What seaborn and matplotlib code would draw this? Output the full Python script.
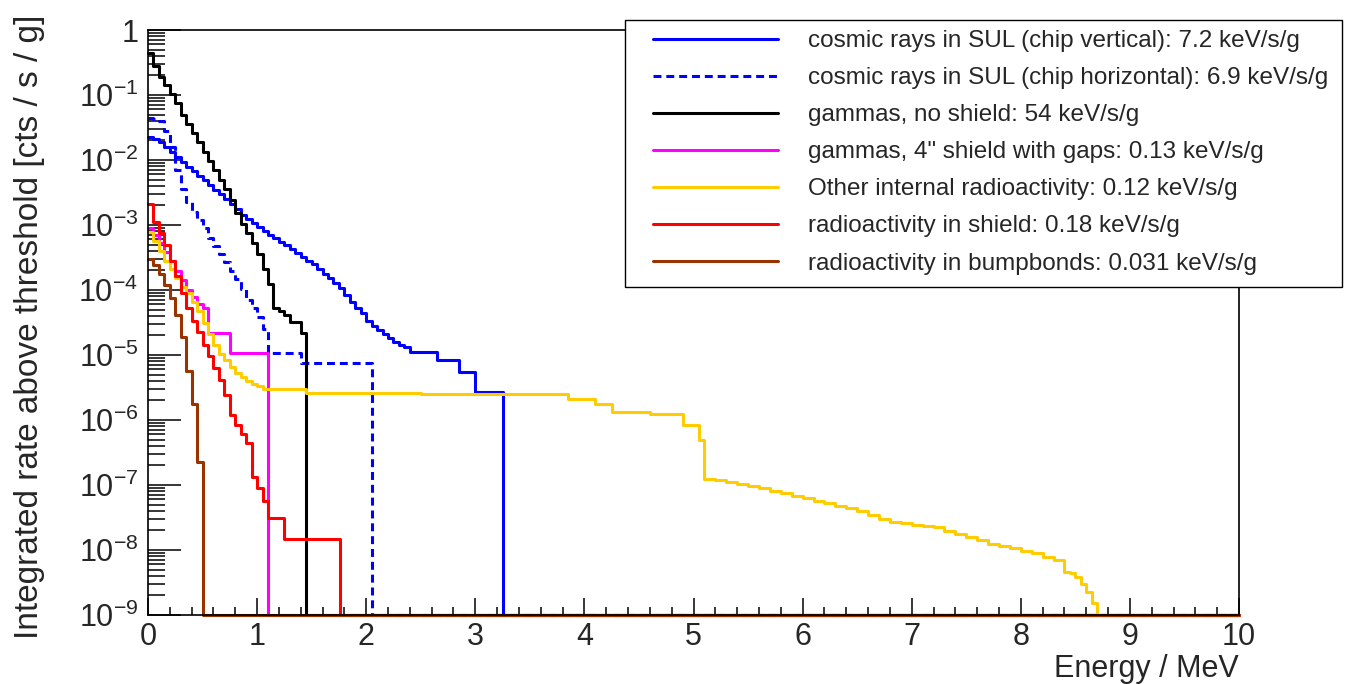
import numpy as np
import seaborn as sns
import matplotlib
matplotlib.use("Agg")
import matplotlib.pyplot as plt
from matplotlib.patches import Rectangle
from matplotlib.ticker import (FixedLocator, FixedFormatter, LogLocator,
                               MultipleLocator, NullFormatter)

# Histogram binning: 0.05 MeV bins from 0, some series continue with wider bins.
BIN = 0.05
E_MAX = 10.0
FLOOR = 1e-9

labels = [
    "cosmic rays in SUL (chip vertical): 7.2 keV/s/g",
    "cosmic rays in SUL (chip horizontal): 6.9 keV/s/g",
    "gammas, no shield: 54 keV/s/g",
    'gammas, 4" shield with gaps: 0.13 keV/s/g',
    "Other internal radioactivity: 0.12 keV/s/g",
    "radioactivity in shield: 0.18 keV/s/g",
    "radioactivity in bumpbonds: 0.031 keV/s/g",
]
colors = ["#0000ff", "#0000ff", "#000000", "#ff00ff", "#ffcc00", "#ff0000", "#993300"]

# log10(integrated rate), per 0.05 MeV bin starting at 0
blue_fine = [-1.64, -1.67, -1.72, -1.80, -1.87, -1.95, -2.03, -2.10, -2.17, -2.24,
             -2.31, -2.39, -2.46, -2.53, -2.60, -2.68, -2.76, -2.84, -2.91, -2.97,
             -3.03, -3.09, -3.15, -3.20, -3.26, -3.31, -3.37, -3.43, -3.49, -3.55,
             -3.60, -3.68, -3.75, -3.82, -3.89, -3.97, -4.08, -4.18, -4.27, -4.36,
             -4.47, -4.55, -4.62, -4.68, -4.74, -4.80, -4.84]
blue_tail_edges = [2.40, 2.65, 2.85, 3.00, 3.25]
blue_tail = [-4.88, -4.95, -5.08, -5.26, -5.57]

dashed_fine = [-1.35, -1.37, -1.40, -1.55, -1.80, -2.15, -2.45, -2.65, -2.80, -2.93,
               -3.05, -3.20, -3.33, -3.45, -3.57, -3.70, -3.83, -3.98, -4.15, -4.28,
               -4.42, -4.60]
dashed_tail_edges = [1.40, 2.05]
dashed_tail = [-4.97, -5.12]

black_fine = [-0.36, -0.55, -0.72, -0.85, -0.98, -1.13, -1.30, -1.44, -1.58, -1.73,
              -1.88, -2.02, -2.16, -2.30, -2.44, -2.62, -2.82, -2.98, -3.12, -3.28,
              -3.45, -3.68, -3.90, -4.27, -4.32, -4.38, -4.49, -4.49, -4.66]

magenta_fine = [-3.05, -3.15, -3.28, -3.42, -3.55, -3.70, -3.85, -4.00, -4.10, -4.22, -4.28]
magenta_tail_edges = [0.75, 1.10]
magenta_tail = [-4.66, -4.97]

yellow_fine = [-3.10, -3.25, -3.40, -3.55, -3.68, -3.82, -3.95, -4.05, -4.18, -4.32,
               -4.50, -4.68, -4.85, -4.98, -5.08, -5.18, -5.27, -5.34, -5.40, -5.45,
               -5.48]
yellow_tail_edges = [1.45, 2.50, 3.85, 4.10, 4.25, 4.60, 4.90, 5.05, 5.10,
                     5.2, 5.3, 5.4, 5.5, 5.6, 5.7, 5.8, 5.9, 6.0, 6.1,
                     6.2, 6.3, 6.4, 6.5, 6.6, 6.7, 6.8, 6.9, 7.0, 7.1,
                     7.2, 7.3, 7.4, 7.5, 7.6, 7.7, 7.8, 7.9, 8.0, 8.1,
                     8.2, 8.3, 8.4, 8.45, 8.50, 8.55, 8.60, 8.65, 8.70]
yellow_tail = [-5.52, -5.58, -5.60, -5.68, -5.76, -5.87, -5.91, -6.08, -6.30,
               -6.90, -6.93, -6.96, -6.99, -7.02, -7.05, -7.09, -7.13, -7.17, -7.20,
               -7.24, -7.28, -7.32, -7.36, -7.40, -7.46, -7.53, -7.57, -7.59, -7.61,
               -7.63, -7.65, -7.70, -7.75, -7.80, -7.85, -7.90, -7.94, -7.97, -8.01,
               -8.05, -8.10, -8.16, -8.34, -8.36, -8.42, -8.52, -8.65, -8.82]

red_fine = [-2.68, -2.95, -3.12, -3.30, -3.55, -3.78, -4.05, -4.28, -4.48, -4.65,
            -4.85, -5.02, -5.20, -5.38, -5.62, -5.92, -6.08, -6.22, -6.35, -6.88,
            -7.05, -7.25]
red_tail_edges = [1.25, 1.76]
red_tail = [-7.50, -7.83]

brown_fine = [-3.52, -3.62, -3.75, -3.92, -4.12, -4.38, -4.72, -5.25, -5.75, -6.65]

y_ticks = [1e-9, 1e-8, 1e-7, 1e-6, 1e-5, 1e-4, 1e-3, 1e-2, 1e-1, 1]
y_tick_labels = [r"$10^{-9}$", r"$10^{-8}$", r"$10^{-7}$", r"$10^{-6}$", r"$10^{-5}$",
                 r"$10^{-4}$", r"$10^{-3}$", r"$10^{-2}$", r"$10^{-1}$", "1"]


# Builds step coordinates; after the last filled bin the histogram is empty
# and ROOT draws it along the bottom of the log axis.
def make_steps(fine, tail_edges=(), tail_vals=()):
    edges = list(np.round(np.arange(len(fine) + 1) * BIN, 3)) + list(tail_edges)
    vals = list(fine) + list(tail_vals)
    x = edges + [E_MAX]
    y = [10.0 ** v for v in vals] + [FLOOR, FLOOR]
    return x, y


series = [
    make_steps(blue_fine, blue_tail_edges, blue_tail),
    make_steps(dashed_fine, dashed_tail_edges, dashed_tail),
    make_steps(black_fine),
    make_steps(magenta_fine, magenta_tail_edges, magenta_tail),
    make_steps(yellow_fine, yellow_tail_edges, yellow_tail),
    make_steps(red_fine, red_tail_edges, red_tail),
    make_steps(brown_fine),
]
styles = ["-", (0, (2.6, 1.6)), "-", "-", "-", "-", "-"]

sns.set_theme(style="white")
plt.rcParams["font.family"] = ["Liberation Sans", "DejaVu Sans"]
plt.rcParams["mathtext.fontset"] = "custom"
plt.rcParams["mathtext.rm"] = "Liberation Sans"
plt.rcParams["mathtext.it"] = "Liberation Sans:italic"
plt.rcParams["axes.unicode_minus"] = True

W, H = 1351, 684
fig = plt.figure(figsize=(W / 100, H / 100), dpi=100)
ax = fig.add_axes([148 / W, 1 - 615 / H, (1239 - 148) / W, (615 - 30) / H])

for (x, y), color, ls, label in zip(series, colors, styles, labels):
    sns.lineplot(x=x, y=y, ax=ax, color=color, linewidth=2.2, linestyle=ls,
                 drawstyle="steps-post", estimator=None, sort=False,
                 label=label, clip_on=False)

ax.set_yscale("log")
ax.set_xlim(0, E_MAX)
ax.set_ylim(FLOOR, 1)

ax.yaxis.set_major_locator(FixedLocator(y_ticks))
ax.yaxis.set_major_formatter(FixedFormatter(y_tick_labels))
ax.yaxis.set_minor_locator(LogLocator(base=10, subs=np.arange(2, 10), numticks=30))
ax.yaxis.set_minor_formatter(NullFormatter())
ax.xaxis.set_major_locator(MultipleLocator(1))
ax.xaxis.set_minor_locator(MultipleLocator(0.2))

ax.tick_params(which="both", direction="in", top=False, right=False,
               left=True, bottom=True, color="black", width=1.1)
ax.tick_params(axis="y", which="major", length=24, labelsize=22, pad=7)
ax.tick_params(axis="y", which="minor", length=12)
ax.tick_params(axis="x", which="major", length=12, labelsize=22, pad=5)
ax.tick_params(axis="x", which="minor", length=6)
for sp in ax.spines.values():
    sp.set_color("black")
    sp.set_linewidth(1.2)

ax.set_ylabel("Integrated rate above threshold [cts / s / g]", fontsize=24)
ax.yaxis.set_label_coords(-0.094, 0.493)
ax.set_xlabel("Energy / MeV", fontsize=22, ha="right")
ax.xaxis.set_label_coords(1.0, -0.066)

# ROOT-style legend box, drawn over the frame
box = Rectangle((625 / W, 1 - 287 / H), (1342 - 625) / W, (287 - 20) / H,
                transform=fig.transFigure, facecolor="white", edgecolor="black",
                linewidth=1.0, clip_on=False, zorder=4)
ax.add_patch(box)
leg = ax.legend(loc="upper left", bbox_to_anchor=(653 / W, 1 - 30 / H),
                bbox_transform=fig.transFigure, fontsize=17.5,
                handlelength=5.14, handletextpad=1.23, labelspacing=0.62,
                borderpad=0, borderaxespad=0, frameon=False)
leg.set_zorder(5)

fig.savefig("out.png", dpi=100)
